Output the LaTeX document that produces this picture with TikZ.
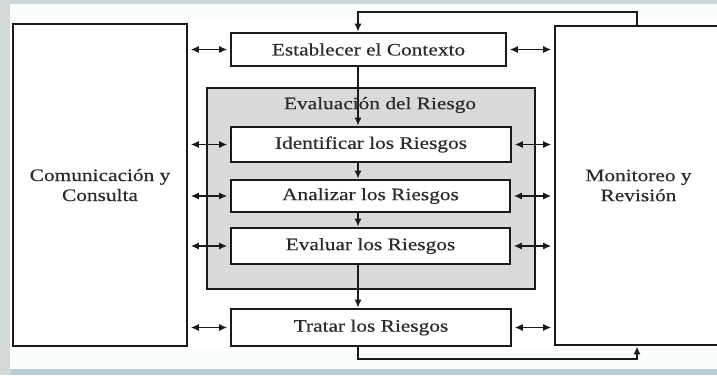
\documentclass[tikz,border=0pt]{standalone}
\usepackage{fontspec}
\setmainfont{Liberation Serif}[FakeStretch=1.22,FakeBold=0.4]
\usetikzlibrary{arrows.meta}
\definecolor{ink}{HTML}{1A1A1A}
\definecolor{txt}{HTML}{2A2A2A}
\definecolor{grayfill}{HTML}{DADADA}
\definecolor{leftstrip}{HTML}{D3D8D8}
\definecolor{topstrip}{HTML}{C9D9DC}
\definecolor{botstrip}{HTML}{B9CED4}
\definecolor{paper}{HTML}{F9FDFD}
\tikzset{
  box/.style={draw=ink, line width=2.6pt, fill=white, inner sep=0pt, text=txt,
    font=\fontsize{17.5}{20}\selectfont, align=center},
  grp/.style={draw=ink, line width=2.6pt, fill=grayfill, inner sep=0pt},
  lbl/.style={text=txt, font=\fontsize{17.5}{20}\selectfont, inner sep=0pt},
  flow/.style={draw=ink, line width=1.8pt, -{Latex[length=8pt,width=7pt]}},
  dbl/.style={draw=ink, line width=1.3pt, {Latex[length=8pt,width=7pt]}-{Latex[length=8pt,width=7pt]}, shorten <=2.5pt, shorten >=2.5pt},
  loop/.style={draw=ink, line width=1.8pt}
}
\begin{document}
\begin{tikzpicture}[x=1pt,y=-1pt]
\useasboundingbox (0,0) rectangle (717,375);
\clip (0,0) rectangle (717,375);
% background
\fill[paper] (0,0) rectangle (717,375);
\fill[white] (10,20) rectangle (717,350);
\fill[topstrip] (0,0) rectangle (717,4);
\fill[botstrip] (0,369) rectangle (717,375);
\fill[leftstrip] (0,0) rectangle (10,375);

% group
\node[grp, minimum width=328pt, minimum height=201pt] (grp) at (371,188.5) {};
\node[lbl] (grplbl) at (380,105) {Evaluación del Riesgo};

% boxes
\node[box, minimum width=174pt, minimum height=322pt] (com) at (100,185) {Comunicación y\\Consulta};
\node[box, minimum width=167pt, minimum height=319pt] (mon) at (638.5,185.5) {Monitoreo y\\Revisión};
\node[box, minimum width=275pt, minimum height=33pt] (ctx) at (368.5,49.5) {Establecer el Contexto};
\node[box, minimum width=280pt, minimum height=35pt] (ide) at (371,144.5) {Identificar los Riesgos};
\node[box, minimum width=279pt, minimum height=32pt] (ana) at (370.5,196) {Analizar los Riesgos};
\node[box, minimum width=279pt, minimum height=36pt] (evl) at (370.5,246) {Evaluar los Riesgos};
\node[box, minimum width=280pt, minimum height=37pt] (tra) at (371,327.5) {Tratar los Riesgos};

% spine and loop coordinates
\coordinate (sp) at (358,0);
\coordinate (tl) at (637,12);
\coordinate (bl) at (637,359);

% vertical flow
\draw[flow] (ctx.south -| sp) -- (ide.north -| sp);
\draw[flow] (ide.south -| sp) -- (ana.north -| sp);
\draw[flow] (ana.south -| sp) -- (evl.north -| sp);
\draw[flow] (evl.south -| sp) -- (tra.north -| sp);

% feedback loops
\draw[loop, -{Latex[length=8pt,width=7pt]}] (mon.north -| tl) |- (sp |- tl) -- (ctx.north -| sp);
\draw[loop, -{Latex[length=8pt,width=7pt]}] (tra.south -| sp) |- (bl) -- (mon.south -| bl);

% left double arrows
\draw[dbl] (com.east |- ctx) -- (ctx.west);
\draw[dbl] (com.east |- ide) -- (ide.west);
\draw[dbl] (com.east |- ana) -- (ana.west);
\draw[dbl] (com.east |- evl) -- (evl.west);
\draw[dbl] (com.east |- tra) -- (tra.west);
% right double arrows
\draw[dbl] (ctx.east) -- (mon.west |- ctx);
\draw[dbl] (ide.east) -- (mon.west |- ide);
\draw[dbl] (ana.east) -- (mon.west |- ana);
\draw[dbl] (evl.east) -- (mon.west |- evl);
\draw[dbl] (tra.east) -- (mon.west |- tra);
\end{tikzpicture}
\end{document}
